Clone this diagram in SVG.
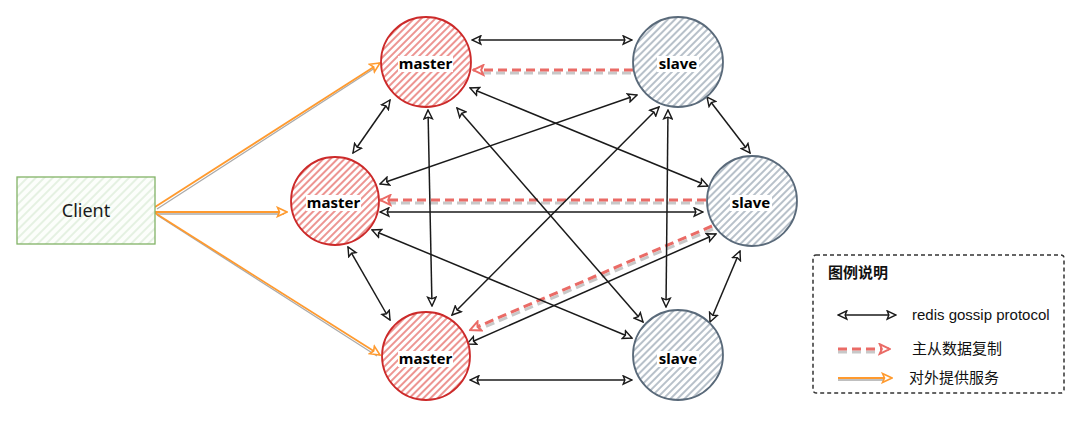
<svg xmlns="http://www.w3.org/2000/svg" width="1080" height="433" viewBox="0 0 1080 433">
<style>
.g{stroke:#1a1a1a;stroke-width:1.5;fill:none;marker-start:url(#ab);marker-end:url(#ab)}
.rd{stroke:#ea6b66;stroke-width:3;stroke-dasharray:9 5;fill:none;marker-end:url(#ar)}
.rs{stroke:#c8c8c8;stroke-width:3;stroke-dasharray:9 5;fill:none}
.or{stroke:#ff9a2e;stroke-width:1.8;fill:none;marker-end:url(#ao)}
.os{stroke:#aaa;stroke-width:1.3;fill:none}
.m{fill:url(#hm);stroke:#cc2a2a;stroke-width:1.8}
.s{fill:url(#hs);stroke:#5a6a7a;stroke-width:1.8}
.lb{font-family:"Noto Sans","DejaVu Sans",sans-serif;font-weight:bold;font-size:15px;fill:#000;text-anchor:middle}
.bg{fill:#fff}
.lt{font-family:"Liberation Sans","Noto Sans CJK SC",sans-serif;font-size:15px;fill:#111}
</style>
<defs>
<pattern id="hm" width="5" height="5" patternUnits="userSpaceOnUse" patternTransform="rotate(45)"><rect width="5" height="5" fill="#fff"/><line x1="1" y1="0" x2="1" y2="5" stroke="#e8726d" stroke-width="1.5"/></pattern>
<pattern id="hs" width="5" height="5" patternUnits="userSpaceOnUse" patternTransform="rotate(45)"><rect width="5" height="5" fill="#fff"/><line x1="1" y1="0" x2="1" y2="5" stroke="#9aa7b4" stroke-width="1.4"/></pattern>
<pattern id="hc" width="6" height="6" patternUnits="userSpaceOnUse" patternTransform="rotate(45)"><rect width="6" height="6" fill="#fcfefb"/><line x1="1" y1="0" x2="1" y2="6" stroke="#dcecd8" stroke-width="1.4"/></pattern>
<marker id="ab" viewBox="0 0 10 10" refX="9" refY="5" markerWidth="11" markerHeight="11" markerUnits="userSpaceOnUse" orient="auto-start-reverse"><path d="M1,1.2 L9,5 L1,8.8 L2.5,5 z" fill="#fff" stroke="#1a1a1a" stroke-width="1.3"/></marker>
<marker id="ar" viewBox="0 0 12 12" refX="11" refY="6" markerWidth="13" markerHeight="13" markerUnits="userSpaceOnUse" orient="auto"><path d="M1.5,1.5 L11,6 L1.5,10.5 L3.5,6 z" fill="#fff" stroke="#ea6b66" stroke-width="1.8"/></marker>
<marker id="ao" viewBox="0 0 12 12" refX="11" refY="6" markerWidth="12" markerHeight="12" markerUnits="userSpaceOnUse" orient="auto"><path d="M1.5,1.5 L11,6 L1.5,10.5 L3.5,6 z" fill="#fff" stroke="#ff9a2e" stroke-width="1.6"/></marker>
</defs>
<rect width="1080" height="433" fill="#fff"/>

<g id="connectors">
<line class="os" x1="157" y1="209" x2="378" y2="66"/>
<line class="or" x1="155" y1="207" x2="380" y2="63"/>
<line class="os" x1="157" y1="214" x2="284" y2="214"/>
<line class="or" x1="155" y1="212" x2="287" y2="212"/>
<line class="os" x1="157" y1="215" x2="377" y2="356"/>
<line class="or" x1="155" y1="213" x2="380" y2="355"/>
<line class="rs" x1="631" y1="73" x2="482" y2="73"/>
<line class="rd" x1="633" y1="70" x2="473" y2="70"/>
<line class="rs" x1="704" y1="203" x2="390" y2="203"/>
<line class="rd" x1="706" y1="200" x2="380" y2="200"/>
<line class="rs" x1="713" y1="229" x2="480" y2="329"/>
<line class="rd" x1="712" y1="226" x2="470" y2="330"/>
<line class="g" x1="472" y1="40" x2="632" y2="40"/>
<line class="g" x1="390" y1="100" x2="353" y2="153"/>
<line class="g" x1="428" y1="110" x2="432" y2="306"/>
<line class="g" x1="470" y1="88" x2="708" y2="186"/>
<line class="g" x1="457" y1="108" x2="643" y2="322"/>
<line class="g" x1="380" y1="184" x2="637" y2="95"/>
<line class="g" x1="452" y1="315" x2="659" y2="107"/>
<line class="g" x1="707" y1="97" x2="750" y2="153"/>
<line class="g" x1="668" y1="110" x2="666" y2="307"/>
<line class="g" x1="380" y1="212" x2="703" y2="212"/>
<line class="g" x1="348" y1="247" x2="390" y2="320"/>
<line class="g" x1="372" y1="230" x2="632" y2="338"/>
<line class="g" x1="467" y1="344" x2="716" y2="234"/>
<line class="g" x1="740" y1="251" x2="710" y2="322"/>
<line class="g" x1="470" y1="380" x2="632" y2="380"/>
</g>

<g id="node-client">
<rect x="17" y="177" width="138" height="67" fill="url(#hc)" stroke="#82b366" stroke-width="1.3"/>
<text x="86" y="217" font-family="'Noto Sans','Liberation Sans',sans-serif" font-size="18" fill="#1a1a1a" text-anchor="middle">Client</text>
</g>

<g id="node-m1">
<circle class="m" cx="426" cy="62" r="45"/>
<rect class="bg" x="398" y="56" width="55" height="16"/>
<text class="lb" x="425.5" y="69">master</text>
</g>
<g id="node-s1">
<circle class="s" cx="678" cy="62" r="45"/>
<rect class="bg" x="657" y="56" width="42" height="16"/>
<text class="lb" x="678" y="69">slave</text>
</g>
<g id="node-m2">
<circle class="m" cx="335" cy="201" r="44"/>
<rect class="bg" x="306" y="195" width="55" height="16"/>
<text class="lb" x="333.5" y="208">master</text>
</g>
<g id="node-s2">
<circle class="s" cx="752" cy="201" r="45"/>
<rect class="bg" x="730" y="195" width="42" height="16"/>
<text class="lb" x="751" y="208">slave</text>
</g>
<g id="node-m3">
<circle class="m" cx="426" cy="356" r="44"/>
<rect class="bg" x="398" y="351" width="55" height="16"/>
<text class="lb" x="425.5" y="364">master</text>
</g>
<g id="node-s3">
<circle class="s" cx="678" cy="355" r="45"/>
<rect class="bg" x="657" y="351" width="42" height="16"/>
<text class="lb" x="678" y="364">slave</text>
</g>

<g id="legend">
<rect x="813" y="255" width="251" height="138" rx="3" fill="#fff" stroke="#333" stroke-width="1.5" stroke-dasharray="4 3"/>
<text x="828" y="278" font-family="'Noto Sans CJK SC',sans-serif" font-size="15" font-weight="bold" fill="#111">图例说明</text>
<line class="g" x1="838" y1="315" x2="896" y2="315"/>
<text class="lt" x="912" y="320">redis gossip protocol</text>
<line class="rs" x1="838" y1="352" x2="880" y2="352"/>
<line class="rd" x1="838" y1="349" x2="890" y2="349"/>
<text class="lt" x="912" y="354" font-family="'Noto Sans CJK SC',sans-serif">主从数据复制</text>
<line class="os" x1="838" y1="380" x2="888" y2="380"/>
<line class="or" x1="838" y1="378" x2="892" y2="378"/>
<text class="lt" x="909" y="383" font-family="'Noto Sans CJK SC',sans-serif">对外提供服务</text>
</g>
</svg>
